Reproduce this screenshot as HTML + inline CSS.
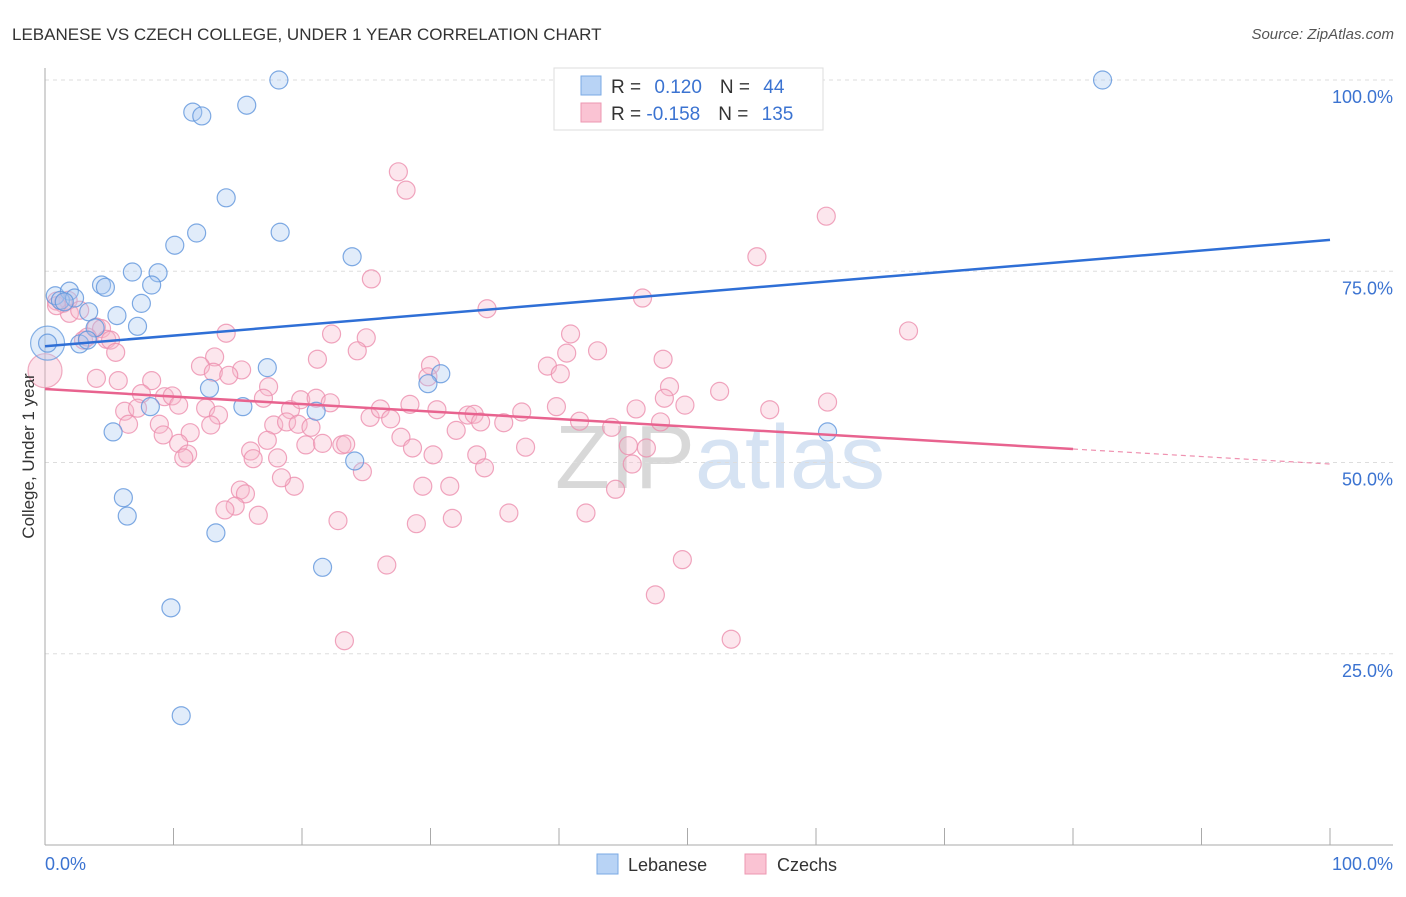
<!DOCTYPE html>
<html><head><meta charset="utf-8">
<style>
body{margin:0;background:#fff;font-family:"Liberation Sans",sans-serif;}
svg text{font-family:"Liberation Sans",sans-serif;}
</style></head>
<body>
<svg id="chart" width="1406" height="892" xmlns="http://www.w3.org/2000/svg">
<text x="12" y="40" font-size="17" fill="#333">LEBANESE VS CZECH COLLEGE, UNDER 1 YEAR CORRELATION CHART</text>
<text x="1394" y="39" font-size="15" fill="#555" font-style="italic" text-anchor="end">Source: ZipAtlas.com</text>
<text x="720" y="488" font-size="90" fill="#e4e4e4" text-anchor="middle" font-family="Liberation Serif"><tspan fill="#d8d8d8">ZIP</tspan><tspan fill="#d6e3f3" font-family="Liberation Sans">atlas</tspan></text>
<g id="grid"></g>
<g id="axes"></g>
<g id="points"></g>
<g id="trends"></g>
<text transform="translate(34,456) rotate(-90)" font-size="17" fill="#333" text-anchor="middle">College, Under 1 year</text>
<g>
<rect x="554" y="68" width="269" height="62" fill="#fff" stroke="#ddd"/>
<rect x="581" y="76" width="20" height="19" fill="#b8d3f5" stroke="#7aa9e4"/>
<rect x="581" y="103" width="20" height="19" fill="#fac3d3" stroke="#ec97b2"/>
<text x="611" y="93" font-size="19" fill="#333">R = <tspan fill="#3b73d1" dx="8">0.120</tspan><tspan fill="#333" dx="18">N = </tspan><tspan fill="#3b73d1" dx="8">44</tspan></text>
<text x="611" y="120" font-size="19" fill="#333">R = <tspan fill="#3b73d1">-0.158</tspan><tspan fill="#333" dx="18">N = </tspan><tspan fill="#3b73d1" dx="8">135</tspan></text>
</g>
<g>
<rect x="597" y="854" width="21" height="20" fill="#b8d3f5" stroke="#7aa9e4"/>
<text x="628" y="871" font-size="18" fill="#333">Lebanese</text>
<rect x="745" y="854" width="21" height="20" fill="#fac3d3" stroke="#ec97b2"/>
<text x="777" y="871" font-size="18" fill="#333">Czechs</text>
</g>
</svg>
<script>
const yTicks=[25,50,75,100];
const yTickLabels=["25.0%","50.0%","75.0%","100.0%"];
const xTicks=[0,10,20,30,40,50,60,70,80,90,100];
const xEdgeLabels=["0.0%","100.0%"];
const lebX=[18.2,82.3,11.5,12.2,15.7,14.1,11.8,18.3,10.1,23.9,6.8,8.8,4.4,4.7,8.3,0.8,1.9,1.2,2.3,3.4,5.6,7.5,7.2,3.9,2.7,3.3,0.2,17.3,12.8,30.8,29.8,15.4,21.1,8.2,5.3,24.1,60.9,6.1,6.4,13.3,21.6,9.8,10.6,1.5];
const lebY=[100,100,95.8,95.3,96.7,84.6,80.0,80.1,78.4,76.9,74.9,74.8,73.2,72.9,73.2,71.8,72.4,71.2,71.5,69.7,69.2,70.8,67.8,67.6,65.5,66.0,65.6,62.4,59.7,61.6,60.3,57.3,56.7,57.3,54.0,50.2,54.0,45.4,43.0,40.8,36.3,31.0,16.9,71.0];
const czX=[27.5,28.1,60.8,55.4,25.4,46.5,34.4,67.2,1.4,1.8,0.9,1.9,2.7,4.0,4.4,3.0,3.3,4.8,5.1,5.5,14.1,22.3,25.0,24.3,40.9,43.0,40.6,21.2,13.2,12.1,13.1,30.0,29.8,48.1,39.1,40.1,48.6,52.5,48.2,60.9,15.3,14.3,17.4,4.0,5.7,8.3,7.5,9.3,9.9,6.2,7.2,10.4,12.5,13.5,17.0,19.1,19.9,21.1,22.2,6.5,8.9,12.9,17.8,18.8,19.7,20.7,11.3,9.2,10.4,17.3,20.3,21.6,23.1,23.4,25.3,26.1,26.9,28.4,30.5,32.9,33.4,33.9,35.7,37.1,39.8,41.6,44.1,46.0,47.9,49.8,56.4,32.0,33.6,34.2,27.7,28.6,30.2,37.4,45.4,46.8,45.7,16.0,16.2,11.1,10.8,18.1,24.7,29.4,31.5,19.4,18.4,15.2,15.6,14.8,14.0,16.6,22.8,28.9,31.7,36.1,42.1,44.4,26.6,49.6,47.5,23.3,53.4,0.9];
const czY=[88.0,85.6,82.2,76.9,74.0,71.5,70.1,67.2,70.8,71.2,71.1,69.5,69.9,67.7,67.5,66.0,66.4,66.1,66.0,64.4,66.9,66.8,66.3,64.6,66.8,64.6,64.3,63.5,63.8,62.6,61.8,62.7,61.2,63.5,62.6,61.6,59.9,59.3,58.4,57.9,62.1,61.4,59.9,61.0,60.7,60.7,59.0,58.6,58.7,56.7,57.1,57.5,57.1,56.2,58.4,56.9,58.2,58.4,57.8,55.0,55.0,54.9,54.9,55.3,55.0,54.6,53.9,53.6,52.5,52.9,52.3,52.5,52.3,52.4,55.9,57.0,55.7,57.6,56.9,56.2,56.3,55.3,55.2,56.6,57.3,55.4,54.6,57.0,55.3,57.5,56.9,54.2,51.0,49.3,53.3,51.9,51.0,52.0,52.2,51.9,49.8,51.5,50.5,51.1,50.6,50.6,48.8,46.9,46.9,46.9,48.0,46.4,45.9,44.3,43.8,43.1,42.4,42.0,42.7,43.4,43.4,46.5,36.6,37.3,32.7,26.7,26.9,70.5];
const bigLeb=[0.2,65.6];
const bigCz=[0,62.0];
const lebTrend=[65.2,79.1];
const czTrend=[59.6,49.8];
const czSolidEnd=80;

const X0=45,X1=1330,Y0=845,Y100=80;
const sx=v=>X0+(X1-X0)*v/100;
const sy=v=>Y0-(Y0-Y100)*v/100;
const NS="http://www.w3.org/2000/svg";
function mk(tag,attrs,parent){const e=document.createElementNS(NS,tag);for(const k in attrs)e.setAttribute(k,attrs[k]);parent.appendChild(e);return e;}
const grid=document.getElementById('grid'),axes=document.getElementById('axes'),pts=document.getElementById('points'),tr=document.getElementById('trends');
yTicks.forEach((t,i)=>{
  const l=mk('line',{x1:X0,x2:1393,y1:sy(t),y2:sy(t),stroke:'#ddd','stroke-dasharray':'4,4'},grid);
  
  
  const tx=mk('text',{x:1393,y:sy(t)+23,'font-size':18,fill:'#3b73d1','text-anchor':'end'},axes);
  tx.textContent=yTickLabels[i];
  
  
});
const ya=mk('line',{x1:X0,x2:X0,y1:68,y2:Y0,stroke:'#aaa'},axes);


const xa=mk('line',{x1:X0,x2:1393,y1:Y0,y2:Y0,stroke:'#aaa'},axes);


xTicks.forEach(t=>{
  const l=mk('line',{x1:sx(t),x2:sx(t),y1:828,y2:Y0,stroke:'#aaa'},axes);
  
  
});
const xl0=mk('text',{x:45,y:870,'font-size':18,fill:'#3b73d1'},axes);
xl0.textContent=xEdgeLabels[0];


const xl1=mk('text',{x:1393,y:870,'font-size':18,fill:'#3b73d1','text-anchor':'end'},axes);
xl1.textContent=xEdgeLabels[1];



function dot(x,y,r,fill,stroke,name){
  const c=mk('circle',{cx:sx(x),cy:sy(y),r:r,fill:fill,'fill-opacity':0.35,stroke:stroke,'stroke-opacity':0.8,'stroke-width':1.2},pts);
  
  
}
dot(bigCz[0],bigCz[1],17,'#f5b0c5','#ec97b2','czechs-point-large');
dot(bigLeb[0],bigLeb[1],17,'#a9c8f0','#6a9fe0','lebanese-point-large');
czX.forEach((x,i)=>dot(x,czY[i],9,'#f7b8cb','#ec8fae','czechs-point'));
lebX.forEach((x,i)=>dot(x,lebY[i],9,'#a9c8f0','#5f95dc','lebanese-point'));

const lt=mk('line',{x1:sx(0),y1:sy(lebTrend[0]),x2:sx(100),y2:sy(lebTrend[1]),stroke:'#2f6fd6','stroke-width':2.5},tr);


const cyAt=x=>czTrend[0]+(czTrend[1]-czTrend[0])*x/100;
const ct=mk('line',{x1:sx(0),y1:sy(czTrend[0]),x2:sx(czSolidEnd),y2:sy(cyAt(czSolidEnd)),stroke:'#e8638f','stroke-width':2.5},tr);


const cd=mk('line',{x1:sx(czSolidEnd),y1:sy(cyAt(czSolidEnd)),x2:sx(100),y2:sy(czTrend[1]),stroke:'#e8638f','stroke-width':1.2,'stroke-dasharray':'5,4','stroke-opacity':0.7},tr);


</script>
</body></html>
